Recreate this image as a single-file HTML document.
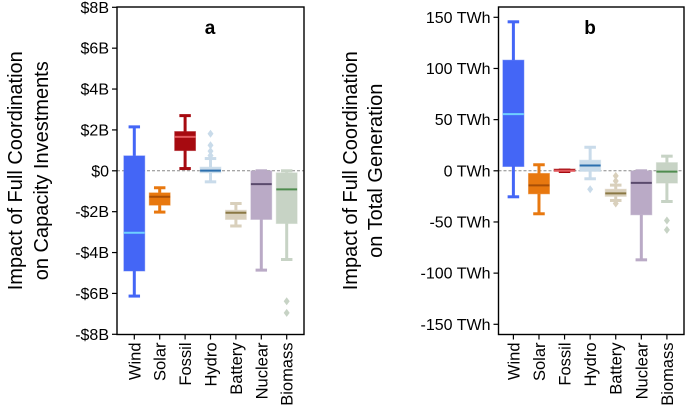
<!DOCTYPE html>
<html><head><meta charset="utf-8"><style>
html,body{margin:0;padding:0;background:#fff}
svg{display:block;font-family:"Liberation Sans",Arial,sans-serif}
</style></head><body>
<svg id="chart" width="685" height="410" viewBox="0 0 685 410"></svg>
<script>
const categories = ["Wind","Solar","Fossil","Hydro","Battery","Nuclear","Biomass"];
const colors = ["#4466f6","#e8780f","#a60a10","#c9dbea","#d9d0bc","#baaac6","#c7d3c5"];
const medColors = ["#6fd0ff","#a84e06","#e2585c","#2b6fae","#8a7844","#5a4a6c","#4f8c4f"];
// panel a values ($B): [low whisker, Q1, median, Q3, high whisker]
const statsA = [[-6.13,-4.9,-3.03,0.73,2.15],[-2.02,-1.68,-1.27,-1.08,-0.83],[0.11,0.99,1.66,1.92,2.7],[-0.54,-0.1,0.01,0.18,0.6],[-2.7,-2.38,-2.05,-1.93,-1.6],[-4.86,-2.38,-0.65,0,0],[-4.34,-2.58,-0.91,-0.1,0]];
const outliersA = [[],[],[],[1.81,1.25,0.96,0.75],[],[],[-6.38,-6.95]];
const ticksA = [8,6,4,2,0,-2,-4,-6,-8];
const tickLabelsA = ["$8B","$6B","$4B","$2B","$0","-$2B","-$4B","-$6B","-$8B"];
// panel b values (TWh)
const statsB = [[-25.4,4.2,55.4,108.1,145.6],[-42,-22.5,-14.3,-2.6,5.9],[-0.7,-0.7,0,0.7,0.7],[-7.8,-0.6,5.2,10.4,23],[-29,-25,-22,-18,-14],[-87,-43,-11.8,0,0],[-30,-12,-0.8,8,14.3]];
const outliersB = [[],[],[],[-18],[-5,-10,-32],[],[-48.6,-57.7]];
const ticksB = [150,100,50,0,-50,-100,-150];
const tickLabelsB = ["150 TWh","100 TWh","50 TWh","0 TWh","-50 TWh","-100 TWh","-150 TWh"];

const NS="http://www.w3.org/2000/svg";
const svg=document.getElementById('chart');
function mk(tag,attrs,parent){const e=document.createElementNS(NS,tag);for(const k in attrs)e.setAttribute(k,attrs[k]);(parent||svg).appendChild(e);return e;}

function panel(p){
  const g=mk('g',{});
  
  
  const y=v=>p.y0+(p.vmax-v)/(p.vmax-p.vmin)*(p.y1-p.y0);
  const step=(p.x1-p.x0)/categories.length;
  const x=i=>p.x0+step*(i+0.5);
  const zl=mk('line',{x1:p.fx0,x2:p.fx1,y1:y(0),y2:y(0),stroke:'#888','stroke-width':1,'stroke-dasharray':'3,2'},g);
  
  
  const bw=step*0.82, cw=bw*0.55;
  p.stats.forEach((s,i)=>{
    const bg=mk('g',{},g);
    
    
    const c=colors[i],cx=x(i);
    mk('line',{x1:cx,x2:cx,y1:y(s[4]),y2:y(s[3]),stroke:c,'stroke-width':3},bg);
    mk('line',{x1:cx,x2:cx,y1:y(s[1]),y2:y(s[0]),stroke:c,'stroke-width':3},bg);
    mk('line',{x1:cx-cw/2,x2:cx+cw/2,y1:y(s[4]),y2:y(s[4]),stroke:c,'stroke-width':3},bg);
    mk('line',{x1:cx-cw/2,x2:cx+cw/2,y1:y(s[0]),y2:y(s[0]),stroke:c,'stroke-width':3},bg);
    const h=Math.max(2,y(s[1])-y(s[3]));
    mk('rect',{x:cx-bw/2,y:y(s[3])-(h>2?0:1),width:bw,height:h,fill:c,stroke:c,'stroke-opacity':0.5,'stroke-width':1},bg);
    mk('line',{x1:cx-bw/2,x2:cx+bw/2,y1:y(s[2]),y2:y(s[2]),stroke:medColors[i],'stroke-width':2},bg);
    p.out[i].forEach(o=>{const oy=y(o);
      const d=mk('path',{d:`M${cx},${oy-4}L${cx+3},${oy}L${cx},${oy+4}L${cx-3},${oy}Z`,fill:c},bg);
      
      
    });
  });
  const fr=mk('rect',{x:p.fx0,y:p.y0f,width:p.fx1-p.fx0,height:p.y1f-p.y0f,fill:'none',stroke:'#000','stroke-width':1.4},g);
  
  
  p.ticks.forEach((t,k)=>{
    mk('line',{x1:p.fx0-5,x2:p.fx0,y1:y(t),y2:y(t),stroke:'#000','stroke-width':1.2},g);
    const tl=mk('text',{x:p.fx0-8,y:y(t)+5.5,'text-anchor':'end','font-size':16,fill:'#000'},g);
    tl.textContent=p.labels[k];
    
    
  });
  categories.forEach((c,i)=>{
    mk('line',{x1:x(i),x2:x(i),y1:p.y1f,y2:p.y1f+5,stroke:'#000','stroke-width':1.2},g);
    const t=mk('text',{x:0,y:0,'text-anchor':'end','font-size':16.5,transform:`translate(${x(i)+6},${p.y1f+8}) rotate(-90)`},g);
    t.textContent=c;
    
    
  });
  const tt=mk('text',{x:p.tx,y:34,'text-anchor':'middle','font-size':19,'font-weight':'bold'},g);
  tt.textContent=p.title;
  
  
  p.ytitle.forEach((line,k)=>{
    const t=mk('text',{x:0,y:0,'text-anchor':'middle','font-size':20,transform:`translate(${p.yx[k]},${(p.y0f+p.y1f)/2}) rotate(-90)`},g);
    t.textContent=line;
    
    
  });
}
panel({name:'panel-a',x0:121.6,x1:299.4,fx0:117,fx1:304,y0:7.3,y1:334.3,y0f:7,y1f:334.5,vmin:-8,vmax:8,stats:statsA,out:outliersA,ticks:ticksA,labels:tickLabelsA,title:'a',tx:210,ytitle:['Impact of Full Coordination','on Capacity Investments'],yx:[22,48]});
panel({name:'panel-b',x0:500.6,x1:679.7,fx0:498.5,fx1:684,y0:17.3,y1:324.3,y0f:7,y1f:334.5,vmin:-150,vmax:150,stats:statsB,out:outliersB,ticks:ticksB,labels:tickLabelsB,title:'b',tx:590,ytitle:['Impact of Full Coordination','on Total Generation'],yx:[357,382]});
</script>
</body></html>
